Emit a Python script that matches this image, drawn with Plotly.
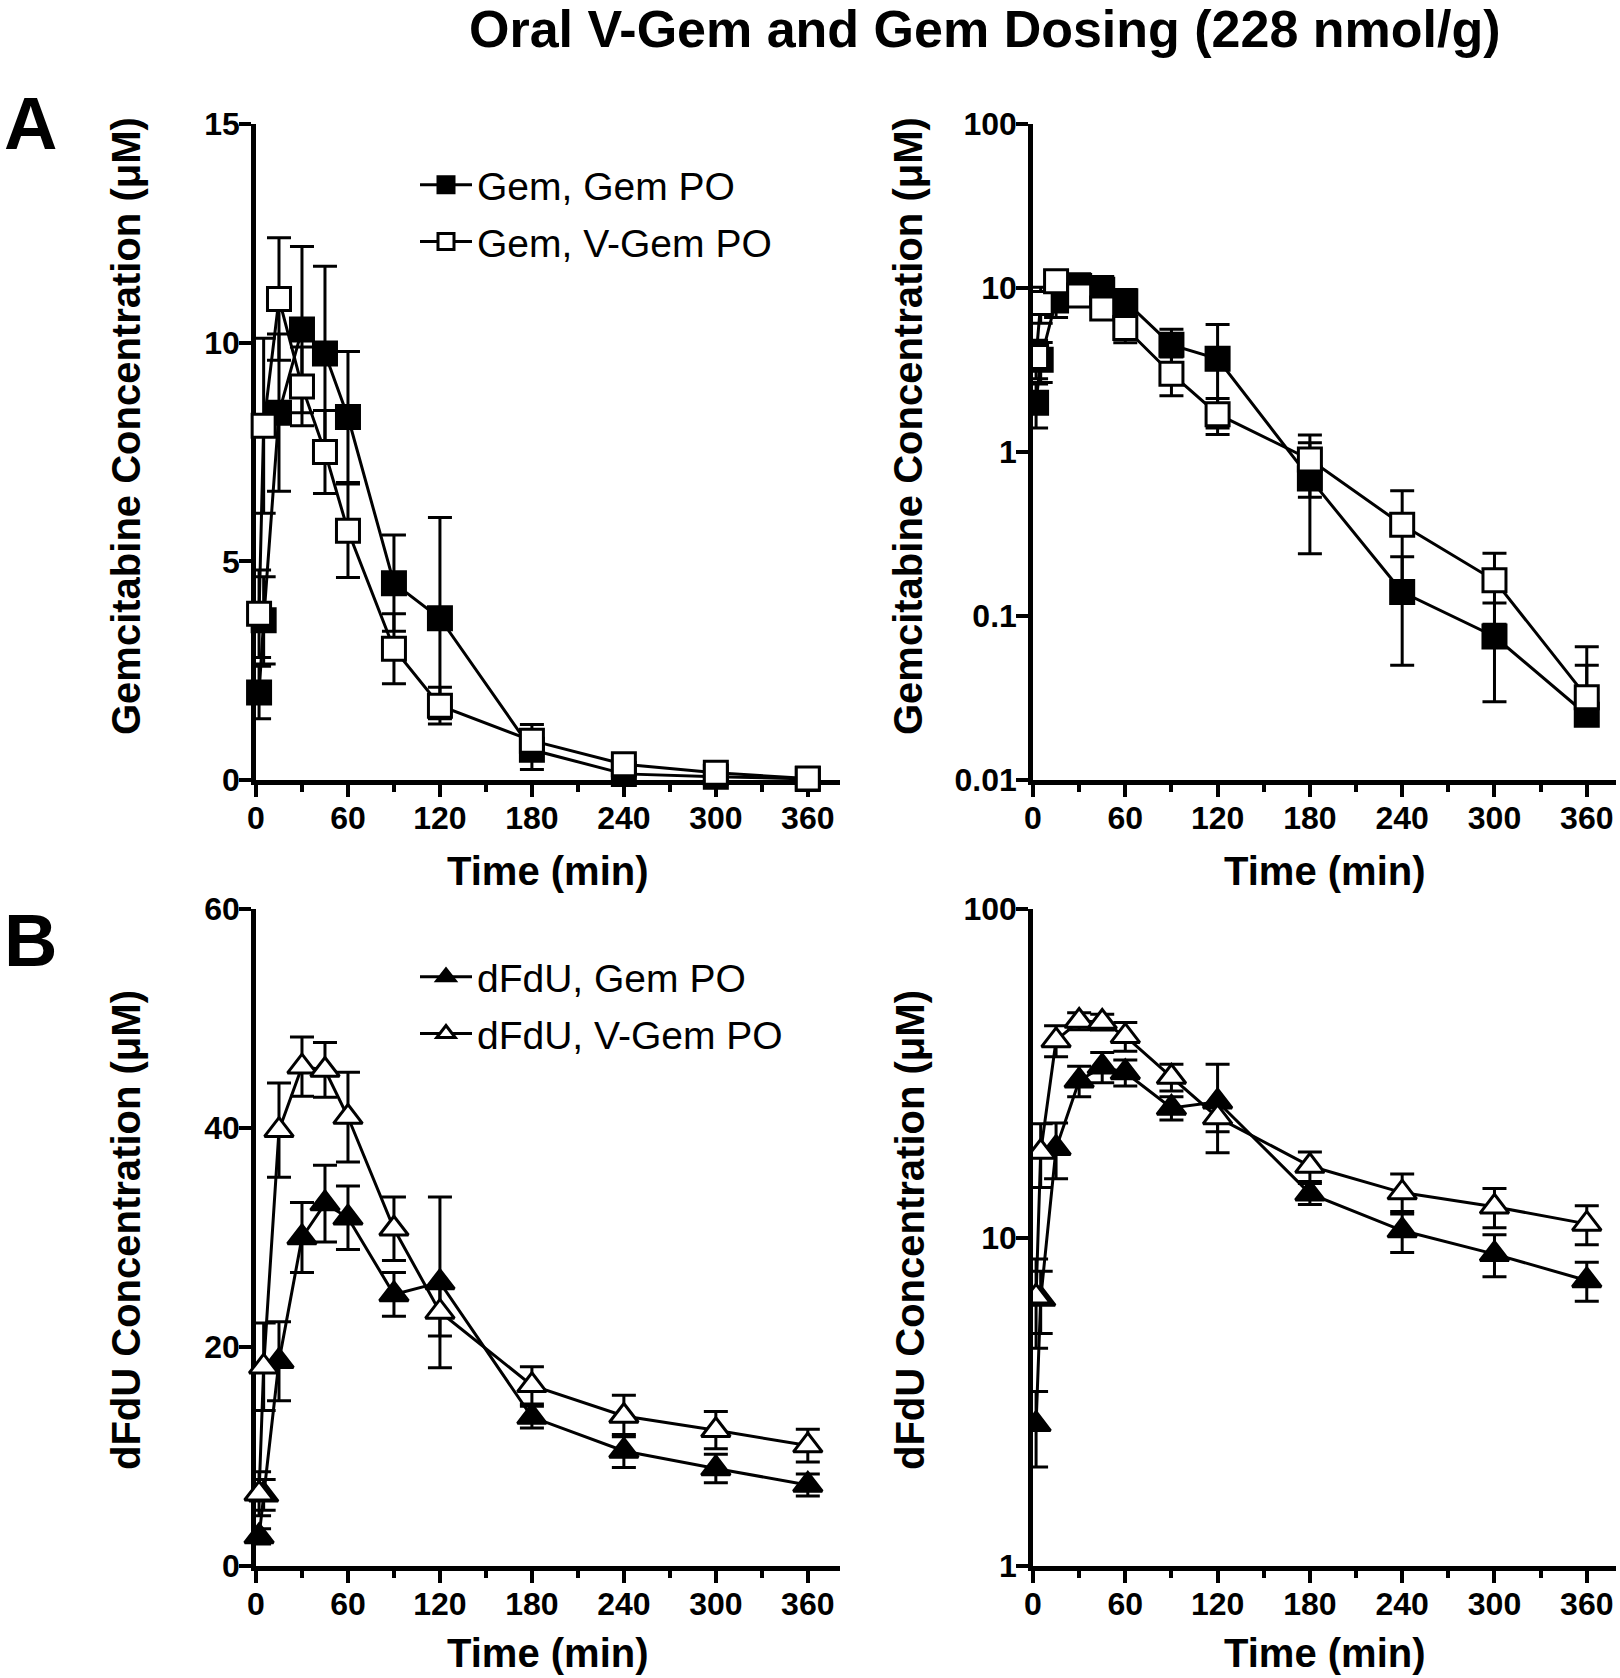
import numpy as np
import plotly.graph_objects as go

# ---------------- data ----------------
times = [2, 5, 15, 30, 45, 60, 90, 120, 180, 240, 300, 360]

gem_gempo_mean = [2.0, 3.65, 8.4, 10.3, 9.75, 8.3, 4.5, 3.7, 0.69, 0.14, 0.075, 0.025]
gem_gempo_sd = [0.6, 1.0, 1.8, 1.9, 2.0, 1.5, 1.1, 2.3, 0.45, 0.09, 0.045, 0.025]

gem_vgempo_mean = [3.8, 8.1, 11.0, 9.0, 7.5, 5.7, 3.0, 1.7, 0.9, 0.36, 0.165, 0.032]
gem_vgempo_sd = [1.0, 2.0, 1.4, 0.9, 0.95, 1.07, 0.8, 0.42, 0.37, 0.22, 0.076, 0.033]

dfdu_gempo_mean = [2.7, 6.5, 18.7, 30.0, 33.1, 31.8, 24.8, 25.9, 13.6, 10.5, 8.9, 7.4]
dfdu_gempo_sd = [0.7, 1.4, 3.6, 3.2, 3.5, 2.9, 2.0, 7.8, 1.0, 1.5, 1.3, 1.0]

dfdu_vgempo_mean = [6.6, 18.2, 39.8, 45.6, 45.3, 41.0, 30.8, 23.2, 16.5, 13.7, 12.4, 11.0]
dfdu_vgempo_sd = [2.0, 4.0, 4.3, 2.7, 2.5, 4.1, 2.9, 2.2, 1.7, 1.9, 1.7, 1.5]

series_names = ["Gem, Gem PO", "Gem, V-Gem PO", "dFdU, Gem PO", "dFdU, V-Gem PO"]
x_tick_vals = [0, 60, 120, 180, 240, 300, 360]
log_top_ticks = [0.01, 0.1, 1, 10, 100]
log_top_text = ["0.01", "0.1", "1", "10", "100"]
log_bot_ticks = [1, 10, 100]
log_bot_text = ["1", "10", "100"]

title_text = "Oral V-Gem and Gem Dosing (228 nmol/g)"
gem_ytitle = "Gemcitabine Concentration (\u03bcM)"
dfdu_ytitle = "dFdU Concentration (\u03bcM)"
x_title = "Time (min)"

# ---------------- layout helpers ----------------
W, H = 1620, 1678
FONT = "Liberation Sans, Arial, Helvetica, sans-serif"


def fx(p):
    return p / W


def fy(p):
    return 1 - p / H


LEFT = [fx(256), fx(840)]
RIGHT = [fx(1033), fx(1616)]
TOP = [fy(780), fy(124)]
BOT = [fy(1566), fy(909)]

fig = go.Figure()


def add_series(mean, sd, xa, ya, symbol, fill, name, legend, showlegend, log):
    mean = np.array(mean, dtype=float)
    sd = np.array(sd, dtype=float)
    minus = np.where(mean - sd > 0, sd, 0.0) if log else sd
    fig.add_trace(go.Scatter(
        x=times, y=mean, name=name, mode="lines+markers",
        xaxis=xa, yaxis=ya, legend=legend, legendgroup=name,
        showlegend=showlegend,
        line=dict(color="black", width=3),
        marker=dict(symbol=symbol, size=23 if symbol == "square" else 25,
                    color=fill, line=dict(color="black", width=3)),
        error_y=dict(type="data", array=sd, arrayminus=minus, symmetric=False,
                     visible=True, color="black", thickness=3, width=12),
        cliponaxis=log,
    ))


# top-left (linear) and top-right (log): gemcitabine
add_series(gem_gempo_mean, gem_gempo_sd, "x", "y", "square", "black", series_names[0], "legend", True, False)
add_series(gem_vgempo_mean, gem_vgempo_sd, "x", "y", "square", "white", series_names[1], "legend", True, False)
add_series(gem_gempo_mean, gem_gempo_sd, "x2", "y2", "square", "black", series_names[0], "legend", False, True)
add_series(gem_vgempo_mean, gem_vgempo_sd, "x2", "y2", "square", "white", series_names[1], "legend", False, True)
# bottom-left (linear) and bottom-right (log): dFdU
add_series(dfdu_gempo_mean, dfdu_gempo_sd, "x3", "y3", "triangle-up", "black", series_names[2], "legend2", True, False)
add_series(dfdu_vgempo_mean, dfdu_vgempo_sd, "x3", "y3", "triangle-up", "white", series_names[3], "legend2", True, False)
add_series(dfdu_gempo_mean, dfdu_gempo_sd, "x4", "y4", "triangle-up", "black", series_names[2], "legend2", False, True)
add_series(dfdu_vgempo_mean, dfdu_vgempo_sd, "x4", "y4", "triangle-up", "white", series_names[3], "legend2", False, True)

tickfont = dict(family=FONT, size=32, color="black", weight="bold")
axis_common = dict(showline=True, linecolor="black", linewidth=4.5, ticks="outside",
                   ticklen=12, tickwidth=4, tickcolor="black", showgrid=False,
                   zeroline=False, tickfont=tickfont, layer="below traces",
                   automargin=False)
x_common = dict(axis_common, tickmode="array", tickvals=x_tick_vals, ticklabelstandoff=-6,
                minor=dict(ticks="outside", ticklen=7, tickwidth=4, tickcolor="black",
                           tickmode="linear", tick0=0, dtick=30, showgrid=False))
y_common = dict(axis_common, ticklabelstandoff=-7)

legend_common = dict(xanchor="left", yanchor="top",
                     font=dict(family=FONT, size=39, color="black"), bgcolor="rgba(0,0,0,0)",
                     itemwidth=52, tracegroupgap=3, traceorder="grouped")

fig.update_layout(
    template="none",
    width=W, height=H, margin=dict(l=0, r=0, t=0, b=0, pad=0, autoexpand=False),
    paper_bgcolor="white", plot_bgcolor="white",
    xaxis=dict(x_common, domain=LEFT, range=[0, 381], anchor="y"),
    yaxis=dict(y_common, domain=TOP, range=[0, 15], tickmode="linear", tick0=0, dtick=5, anchor="x"),
    xaxis2=dict(x_common, domain=RIGHT, range=[0, 379], anchor="y2"),
    yaxis2=dict(y_common, domain=TOP, type="log", range=[-2, 2], tickmode="array",
                tickvals=log_top_ticks, ticktext=log_top_text, anchor="x2"),
    xaxis3=dict(x_common, domain=LEFT, range=[0, 381], anchor="y3"),
    yaxis3=dict(y_common, domain=BOT, range=[0, 60], tickmode="linear", tick0=0, dtick=20, anchor="x3"),
    xaxis4=dict(x_common, domain=RIGHT, range=[0, 379], anchor="y4"),
    yaxis4=dict(y_common, domain=BOT, type="log", range=[0, 2], tickmode="array",
                tickvals=log_bot_ticks, ticktext=log_bot_text, anchor="x4"),
    legend=dict(legend_common, x=fx(415), y=fy(153)),
    legend2=dict(legend_common, x=fx(415), y=fy(945)),
    showlegend=True,
)

ann_font = dict(family=FONT, size=40, color="black", weight="bold")
annotations = [
    dict(text=title_text, x=fx(985), y=fy(29), font=dict(family=FONT, size=52, color="black", weight="bold")),
    dict(text="A", x=fx(30), y=fy(124), font=dict(family=FONT, size=74, color="black", weight="bold")),
    dict(text="B", x=fx(30), y=fy(940), font=dict(family=FONT, size=74, color="black", weight="bold")),
    dict(text=gem_ytitle, x=fx(126), y=fy(426), textangle=-90, font=ann_font),
    dict(text=gem_ytitle, x=fx(908), y=fy(426), textangle=-90, font=ann_font),
    dict(text=dfdu_ytitle, x=fx(126), y=fy(1230), textangle=-90, font=ann_font),
    dict(text=dfdu_ytitle, x=fx(910), y=fy(1230), textangle=-90, font=ann_font),
    dict(text=x_title, x=fx(548), y=fy(871), font=ann_font),
    dict(text=x_title, x=fx(1325), y=fy(871), font=ann_font),
    dict(text=x_title, x=fx(548), y=fy(1653), font=ann_font),
    dict(text=x_title, x=fx(1325), y=fy(1653), font=ann_font),
]
for a in annotations:
    a.update(xref="paper", yref="paper", xanchor="center", yanchor="middle", showarrow=False)
fig.update_layout(annotations=annotations)

fig.write_html("out.html", config={"displayModeBar": False},
               post_script="document.body.style.margin='0px';")
